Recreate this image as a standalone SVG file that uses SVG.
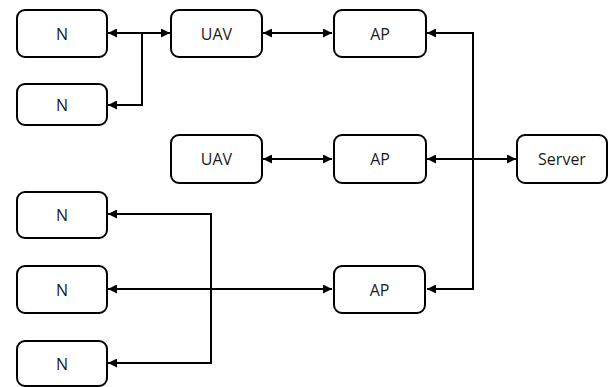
<svg xmlns="http://www.w3.org/2000/svg" width="611" height="387" viewBox="0 0 611 387">
  <style>
    .box { fill: #ffffff; stroke: #000000; stroke-width: 2; }
    .lbl { font-family: "Open Sans", "Liberation Sans", sans-serif; font-size: 16px; fill: #1a1a1a; text-anchor: middle; dominant-baseline: central; }
    .wire { fill: none; stroke: #000000; stroke-width: 2; }
  </style>
  <defs>
    <marker id="tip" viewBox="0 0 10 10" refX="10" refY="5" markerWidth="4.5" markerHeight="4.5" orient="auto-start-reverse" markerUnits="strokeWidth">
      <path d="M0,0 L10,5 L0,10 z" fill="#000000"/>
    </marker>
  </defs>

  <rect width="611" height="387" fill="#ffffff"/>

  <!-- connectors -->
  <g id="connectors">
    <line class="wire" x1="108" y1="33" x2="170" y2="33" marker-start="url(#tip)" marker-end="url(#tip)"/>
    <polyline class="wire" points="142,33 142,105 108,105" marker-end="url(#tip)"/>
    <line class="wire" x1="263" y1="33" x2="332" y2="33" marker-start="url(#tip)" marker-end="url(#tip)"/>
    <polyline class="wire" points="427,33 473,33 473,289 427,289" marker-start="url(#tip)" marker-end="url(#tip)"/>
    <line class="wire" x1="263" y1="159" x2="332" y2="159" marker-start="url(#tip)" marker-end="url(#tip)"/>
    <line class="wire" x1="427" y1="159" x2="516" y2="159" marker-start="url(#tip)" marker-end="url(#tip)"/>
    <line class="wire" x1="108" y1="289" x2="332" y2="289" marker-start="url(#tip)" marker-end="url(#tip)"/>
    <polyline class="wire" points="108,214 211,214 211,363 108,363" marker-start="url(#tip)" marker-end="url(#tip)"/>
  </g>

  <!-- nodes -->
  <g id="n1"><rect class="box" x="17" y="10" width="90" height="47" rx="8"/><text class="lbl" x="62" y="33.5">N</text></g>
  <g id="n2"><rect class="box" x="17" y="84" width="90" height="41" rx="8"/><text class="lbl" x="62" y="105">N</text></g>
  <g id="uav1"><rect class="box" x="171" y="10" width="91" height="47" rx="8"/><text class="lbl" x="216.5" y="33.5">UAV</text></g>
  <g id="ap1"><rect class="box" x="334" y="10" width="92" height="47" rx="8"/><text class="lbl" x="380" y="33.5">AP</text></g>
  <g id="uav2"><rect class="box" x="171" y="135" width="91" height="48" rx="8"/><text class="lbl" x="216.5" y="159">UAV</text></g>
  <g id="ap2"><rect class="box" x="334" y="135" width="92" height="48" rx="8"/><text class="lbl" x="380" y="159">AP</text></g>
  <g id="server"><rect class="box" x="517" y="135" width="90" height="48" rx="8"/><text class="lbl" x="562" y="159">Server</text></g>
  <g id="n3"><rect class="box" x="17" y="192" width="90" height="46" rx="8"/><text class="lbl" x="62" y="215">N</text></g>
  <g id="n4"><rect class="box" x="17" y="266" width="90" height="47" rx="8"/><text class="lbl" x="62" y="289.5">N</text></g>
  <g id="ap3"><rect class="box" x="334" y="266" width="91" height="47" rx="8"/><text class="lbl" x="379.5" y="289.5">AP</text></g>
  <g id="n5"><rect class="box" x="17" y="341" width="90" height="45" rx="8"/><text class="lbl" x="62" y="363.5">N</text></g>
</svg>
